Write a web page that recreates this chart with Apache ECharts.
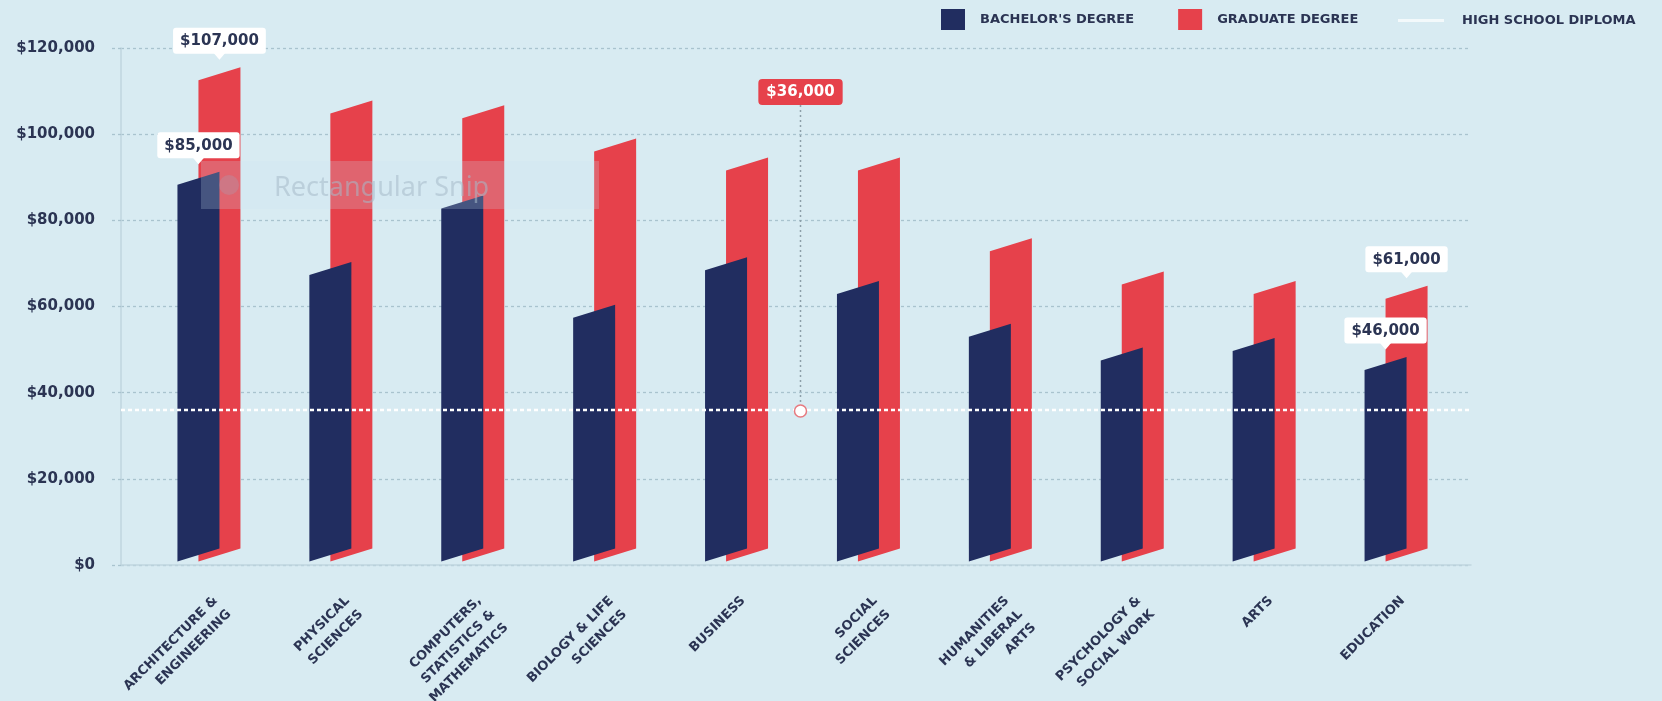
<!DOCTYPE html>
<html>
<head>
<meta charset="utf-8">
<script src="https://cdn.jsdelivr.net/npm/echarts@6/dist/echarts.min.js"></script>
<style>
html,body{margin:0;padding:0;background:#d8ebf2;}
#chart{width:1662px;height:701px;}
</style>
</head>
<body>
<div id="chart"></div>
<script>
// ---------------- data ----------------
const categories = [
  'ARCHITECTURE &\nENGINEERING',
  'PHYSICAL\nSCIENCES',
  'COMPUTERS,\nSTATISTICS &\nMATHEMATICS',
  'BIOLOGY & LIFE\nSCIENCES',
  'BUSINESS',
  'SOCIAL\nSCIENCES',
  'HUMANITIES\n& LIBERAL\nARTS',
  'PSYCHOLOGY &\nSOCIAL WORK',
  'ARTS',
  'EDUCATION'
];
const bachelor = [85000, 66000, 80000, 57000, 67000, 62000, 53000, 48000, 50000, 46000];
const graduate = [107000, 100000, 99000, 92000, 88000, 88000, 71000, 64000, 62000, 61000];
const highSchool = 36000;
const labeledBachelor = [0, 9];
const labeledGraduate = [0, 9];
const seriesNames = ["BACHELOR'S DEGREE", 'GRADUATE DEGREE', 'HIGH SCHOOL DIPLOMA'];
const yMin = 0, yMax = 120000, yStep = 20000;
const calloutBetween = [4, 5];

// ---------------- style ----------------
const BG = '#d8ebf2';
const NAVY = '#212d60';
const RED = '#e6414b';
const INK = '#2b3453';
const GRID = '#a9c3ce';
const AXIS = '#c0d6df';
const FONT = '"DejaVu Sans", sans-serif';
const BAR_W = 42, SHIFT = 10.5, SKEW = 13, BASE_LIFT = 27, LABEL_GAP = 20;

function money(v) { return '$' + Number(v).toLocaleString('en-US'); }

function makeBar(color, shift, labeled) {
  return function (params, api) {
    const i = api.value(0), v = api.value(1);
    const top = api.coord([i, v]);
    const base = api.coord([i, 0]);
    const cx = top[0] + shift;
    const x0 = cx - BAR_W / 2, x1 = cx + BAR_W / 2;
    const yT = top[1], yB = base[1] - BASE_LIFT;
    const children = [{
      type: 'polygon',
      shape: { points: [[x0, yB + SKEW / 2], [x1, yB - SKEW / 2], [x1, yT - SKEW / 2], [x0, yT + SKEW / 2]] },
      style: { fill: color }
    }];
    if (labeled.indexOf(i) >= 0) {
      const boxBottom = yT - LABEL_GAP;
      children.push({
        type: 'polygon', z2: 10,
        shape: { points: [[cx - 6, boxBottom - 1], [cx + 6, boxBottom - 1], [cx, boxBottom + 6]] },
        style: { fill: '#ffffff' }
      });
      children.push({
        type: 'text', z2: 11,
        style: {
          text: money(v), x: cx, y: boxBottom, align: 'center', verticalAlign: 'bottom',
          font: 'bold 15px ' + FONT, fill: INK,
          backgroundColor: '#ffffff', padding: [6, 7, 5, 7], borderRadius: 3
        }
      });
    }
    return { type: 'group', children: children };
  };
}

const chart = echarts.init(document.getElementById('chart'), null, { renderer: 'canvas' });

const option = {
  backgroundColor: BG,
  animation: false,
  grid: [
    { left: 121, right: 191, top: 48, bottom: 136, containLabel: false, outerBoundsMode: 'none' },
    { left: 143, right: 200, top: 12, bottom: 119, containLabel: false, outerBoundsMode: 'none' }
  ],
  legend: [
    {
      data: [{ name: seriesNames[0], icon: 'rect' }, { name: seriesNames[1], icon: 'rect' }],
      left: 936, top: 4, itemWidth: 24, itemHeight: 21, itemGap: 44,
      selectedMode: false,
      textStyle: { color: INK, fontFamily: FONT, fontWeight: 'bold', fontSize: 13, padding: [0, 0, 0, 10] }
    },
    {
      data: [{ name: seriesNames[2], icon: 'rect', itemStyle: { color: '#f3f9fb' } }],
      left: 1393, top: 9, itemWidth: 46, itemHeight: 3,
      selectedMode: false,
      textStyle: { color: INK, fontFamily: FONT, fontWeight: 'bold', fontSize: 13, padding: [0, 0, 0, 13] }
    }
  ],
  xAxis: [
    {
      gridIndex: 0, type: 'value', min: 0, max: 1,
      axisLine: { show: true, lineStyle: { color: AXIS, width: 1.5 } },
      axisTick: { show: false }, axisLabel: { show: false }, splitLine: { show: false }
    },
    {
      gridIndex: 1, type: 'category', data: categories,
      axisLine: { show: false }, axisTick: { show: false }, splitLine: { show: false },
      axisLabel: {
        interval: 0, rotate: 45, margin: 10, verticalAlign: 'top',
        color: INK, fontFamily: FONT, fontWeight: 'bold', fontSize: 13, lineHeight: 19
      }
    }
  ],
  yAxis: [
    {
      gridIndex: 0, type: 'value', min: yMin, max: yMax, interval: yStep,
      axisLine: { show: true, lineStyle: { color: AXIS, width: 1.5 } },
      axisTick: { show: true, length: 11, lineStyle: { color: GRID, type: [3, 3], width: 1.3 } },
      splitLine: { show: true, lineStyle: { color: GRID, type: [3, 3], width: 1.3 } },
      axisLabel: {
        margin: 26, color: INK, fontFamily: FONT, fontWeight: 'bold', fontSize: 15,
        formatter: function (v) { return money(v); }
      }
    },
    {
      gridIndex: 1, type: 'value', min: yMin, max: yMax, show: false,
      splitLine: { show: false }
    }
  ],
  series: [
    {
      name: seriesNames[1], type: 'custom', xAxisIndex: 1, yAxisIndex: 1, z: 2,
      itemStyle: { color: RED },
      renderItem: makeBar(RED, SHIFT, labeledGraduate),
      encode: { x: 0, y: 1 },
      data: graduate.map(function (v, i) { return [i, v]; })
    },
    {
      name: seriesNames[0], type: 'custom', xAxisIndex: 1, yAxisIndex: 1, z: 3,
      itemStyle: { color: NAVY },
      renderItem: makeBar(NAVY, -SHIFT, labeledBachelor),
      encode: { x: 0, y: 1 },
      data: bachelor.map(function (v, i) { return [i, v]; })
    },
    {
      name: seriesNames[2], type: 'line', xAxisIndex: 0, yAxisIndex: 0, z: 5,
      symbol: 'none', silent: true,
      itemStyle: { color: '#ffffff' },
      lineStyle: { color: '#ffffff', width: 2.5, type: [4, 3] },
      data: [[0, highSchool], [1, highSchool]]
    },
    {
      name: 'callout', type: 'custom', xAxisIndex: 1, yAxisIndex: 1, z: 6,
      silent: true,
      renderItem: function (params, api) {
        const a = api.coord([calloutBetween[0], api.value(1)]);
        const b = api.coord([calloutBetween[1], api.value(1)]);
        const cx = (a[0] + b[0]) / 2 - 2, cy = a[1];
        const boxBottom = params.coordSys.y + 93;
        return {
          type: 'group',
          children: [
            { type: 'line', shape: { x1: cx, y1: boxBottom, x2: cx, y2: cy - 6 },
              style: { stroke: '#8d9fa9', lineWidth: 1.5, lineDash: [2, 3] } },
            { type: 'circle', shape: { cx: cx, cy: cy, r: 6 },
              style: { fill: '#ffffff', stroke: '#e77a80', lineWidth: 1.5 } },
            { type: 'text', style: {
                text: money(api.value(1)), x: cx, y: boxBottom, align: 'center', verticalAlign: 'bottom',
                font: 'bold 15px ' + FONT, fill: '#ffffff',
                backgroundColor: RED, padding: [6, 8, 5, 8], borderRadius: 4 } }
          ]
        };
      },
      encode: { x: 0, y: 1 },
      data: [[calloutBetween[0], highSchool]]
    }
  ],
  graphic: [
    { type: 'rect', z: 100, shape: { x: 201, y: 161, width: 398, height: 48 },
      style: { fill: 'rgba(205,228,242,0.22)' }, silent: true },
    { type: 'circle', z: 101, shape: { cx: 229, cy: 185, r: 10 },
      style: { fill: 'rgba(150,175,200,0.25)' }, silent: true },
    { type: 'text', z: 101, x: 274, y: 188,
      style: { text: 'Rectangular Snip', font: '27px "Noto Sans", sans-serif', fill: 'rgba(165,185,200,0.55)', verticalAlign: 'middle' },
      silent: true }
  ]
};

chart.setOption(option);
</script>
</body>
</html>
